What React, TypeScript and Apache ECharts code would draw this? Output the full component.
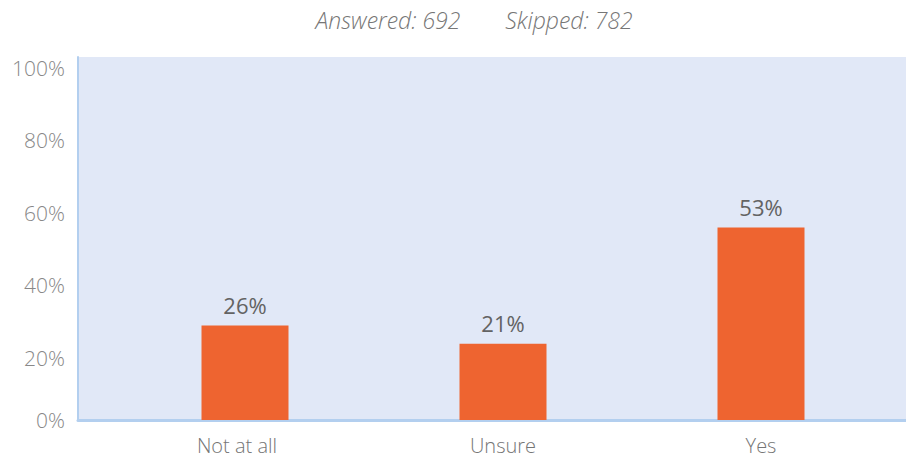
import React, { useEffect, useRef } from "react";
import * as echarts from "echarts";

const categories = ["Not at all", "Unsure", "Yes"];
const values = [26, 21, 53];
const yTicks = [0, 20, 40, 60, 80, 100];
const answered = 692;
const skipped = 782;

export default function App() {
  const ref = useRef<HTMLDivElement>(null);
  useEffect(() => {
    if (!ref.current) return;
    const chart = echarts.init(ref.current, null, { renderer: "svg" });
    const font = "'Open Sans', Roboto, sans-serif";
    const titleStyle = {
      fontFamily: font,
      fontStyle: "italic",
      fontWeight: 300,
      fontSize: 23,
      fill: "#767676",
      textAlign: "center",
      textVerticalAlign: "middle",
    };
    chart.setOption({
      animation: false,
      graphic: [
        {
          type: "text",
          x: 388,
          y: 20,
          style: { ...titleStyle, text: `Answered: ${answered}` },
        },
        {
          type: "text",
          x: 569,
          y: 20,
          style: { ...titleStyle, text: `Skipped: ${skipped}` },
        },
      ],
      grid: [
        {
          left: 78,
          right: 0,
          top: 57,
          bottom: 37,
          show: true,
          backgroundColor: "#E1E8F7",
          borderWidth: 0,
        },
        { left: 116, right: 16, top: 57, bottom: 37 },
      ],
      xAxis: [
        {
          type: "category",
          gridIndex: 0,
          data: [""],
          axisLine: { show: true, lineStyle: { color: "#B3CFEF", width: 3 } },
          axisTick: { show: false },
          axisLabel: { show: false },
        },
        {
          type: "category",
          gridIndex: 1,
          data: categories,
          axisLine: { show: false },
          axisTick: { show: false },
          axisLabel: {
            margin: 15,
            fontFamily: font,
            fontWeight: 300,
            fontSize: 20,
            color: "#757575",
            formatter: (v: string, i: number) => (i === 0 ? `{off|${v}}` : v),
            rich: {
              off: {
                fontFamily: font,
                fontWeight: 300,
                fontSize: 20,
                color: "#757575",
                padding: [0, 16, 0, 0],
              },
            },
          },
        },
      ],
      yAxis: [
        {
          type: "value",
          gridIndex: 0,
          min: yTicks[0],
          max: yTicks[yTicks.length - 1],
          interval: 20,
          axisLine: { show: true, lineStyle: { color: "#B3CFEF", width: 2 } },
          axisTick: { show: false },
          splitLine: { show: false },
          axisLabel: {
            margin: 13,
            fontFamily: font,
            fontWeight: 300,
            fontSize: 21,
            color: "#888",
            verticalAlign: "top",
            verticalAlignMinLabel: "middle",
            formatter: "{value}%",
          },
        },
        {
          type: "value",
          gridIndex: 1,
          min: 0,
          max: 100,
          show: false,
        },
      ],
      series: [
        {
          type: "bar",
          xAxisIndex: 1,
          yAxisIndex: 1,
          data: values,
          barWidth: 87,
          itemStyle: { color: "#EE6430" },
          label: {
            show: true,
            position: "top",
            distance: 10,
            formatter: "{c}%",
            fontFamily: font,
            fontSize: 22,
            color: "#636363",
          },
        },
      ],
    });
    return () => chart.dispose();
  }, []);
  return (
    <div
      ref={ref}
      style={{ position: "absolute", left: 0, top: 0, width: 906, height: 457 }}
    />
  );
}
